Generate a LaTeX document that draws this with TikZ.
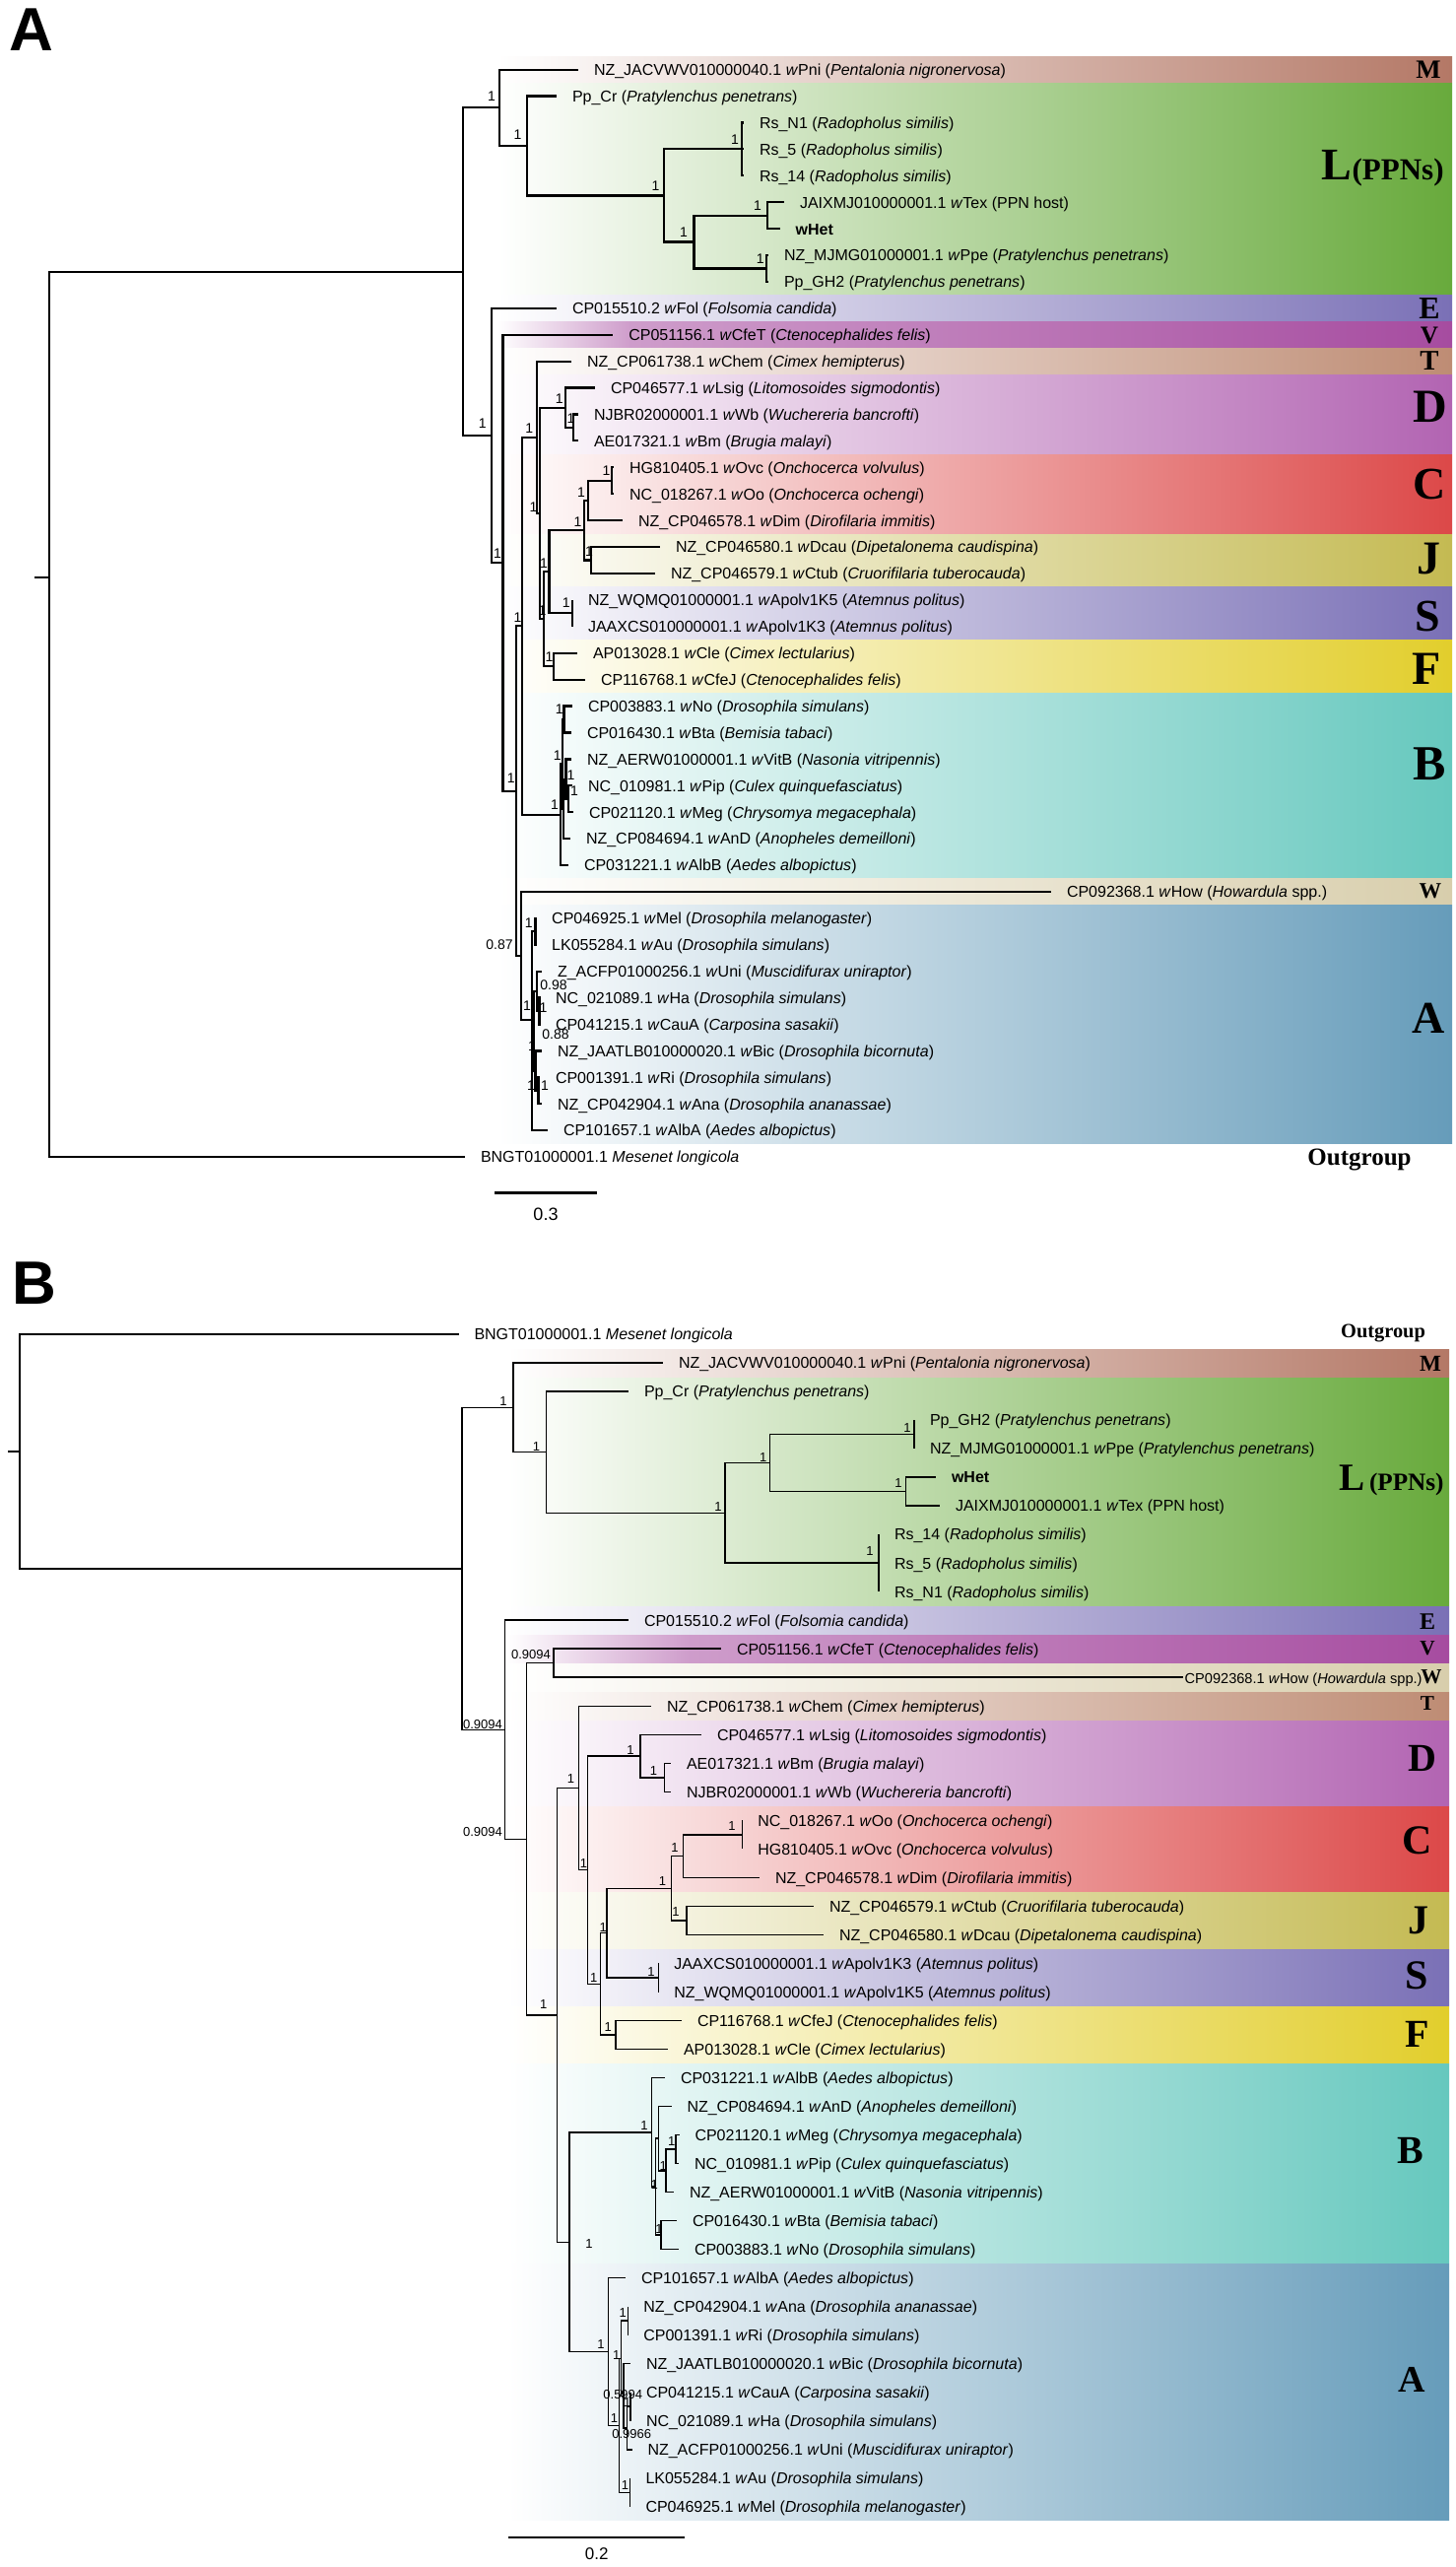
\documentclass[tikz,border=0pt]{standalone}
\usepackage{fontspec}
\setmainfont{Liberation Sans}
\newfontfamily\cladefont{Liberation Serif}

\definecolor{cM}{RGB}{180,120,102}
\definecolor{cL}{RGB}{104,170,60}
\definecolor{cE}{RGB}{122,112,182}
\definecolor{cV}{RGB}{166,76,160}
\definecolor{cT}{RGB}{190,140,116}
\definecolor{cD}{RGB}{178,100,178}
\definecolor{cC}{RGB}{220,72,72}
\definecolor{cJ}{RGB}{196,186,82}
\definecolor{cS}{RGB}{122,112,182}
\definecolor{cF}{RGB}{226,206,44}
\definecolor{cB}{RGB}{102,200,190}
\definecolor{cW}{RGB}{216,206,172}
\definecolor{cA}{RGB}{102,156,186}

% strain label: accession, w-name, host
\newcommand{\wl}[3]{#1 \textit{w}#2 (\textit{#3})}
\newcommand{\hs}[2]{#1 (\textit{#2})}
\newcommand{\cfs}[1]{\fontsize{#1}{#1}\selectfont\cladefont\bfseries}

\tikzset{
  brA/.style={line width=1.1pt},
  brB/.style={line width=0.75pt},
  leaf/.style={anchor=west, inner xsep=1pt, inner ysep=0pt, outer xsep=7pt, outer ysep=0pt,
    font=\fontsize{8}{9}\selectfont, text height=1.55ex, text depth=0.45ex},
  supA/.style={inner sep=0pt, font=\fontsize{7}{7}\selectfont},
  supB/.style={inner sep=0pt, font=\fontsize{6.5}{6.5}\selectfont},
  clade/.style={inner sep=0pt, font=\cfs{#1}},
  panel/.style={inner sep=0pt, anchor=north west, font=\fontsize{31}{31}\selectfont\bfseries},
}

\begin{document}
\begin{tikzpicture}[x=0.5pt,y=-0.5pt]
  \useasboundingbox (0,0) rectangle (1477,2605);

  % ---------------- panel A ----------------
  \foreach \t/\b/\c in {57.7/83.6/cM, 84.6/298.9/cL, 299.9/325.8/cE,
      353.7/379.6/cT, 380.6/460.3/cD, 461.3/541.1/cC, 542.1/594.9/cJ, 595.9/648.7/cS,
      649.7/702.5/cF, 703.5/890.9/cB, 891.9/917.8/cW, 918.8/1160/cA}
    \shade[left color=white,right color=\c] (505,\t) rectangle (1474,\b);
  \shade[left color=white,right color=cV!55] (505,326.8) rectangle (640,352.7);
  \shade[left color=cV!55,right color=cV] (639.5,326.8) rectangle (1474,352.7);

  \node[panel] (labA) at (9,8) {A};

  \node[leaf] (a-Pni) at (587,70.7) {\wl{NZ\_JACVWV010000040.1}{Pni}{Pentalonia nigronervosa}};
  \node[leaf] (a-PpCr) at (565,97.6) {\hs{Pp\_Cr}{Pratylenchus penetrans}};
  \node[leaf] (a-RsN1) at (755,124.5) {\hs{Rs\_N1}{Radopholus similis}};
  \node[leaf] (a-Rs5) at (755,151.4) {\hs{Rs\_5}{Radopholus similis}};
  \node[leaf] (a-Rs14) at (755,178.3) {\hs{Rs\_14}{Radopholus similis}};
  \node[leaf] (a-Tex) at (796,205.2) {JAIXMJ010000001.1 \textit{w}Tex (PPN host)};
  \node[leaf] (a-Het) at (791.6,232.2) {\textbf{wHet}};
  \node[leaf] (a-Ppe) at (780,259.1) {\wl{NZ\_MJMG01000001.1}{Ppe}{Pratylenchus penetrans}};
  \node[leaf] (a-PpGH2) at (780,286.0) {\hs{Pp\_GH2}{Pratylenchus penetrans}};
  \node[leaf] (a-Fol) at (565,312.9) {\wl{CP015510.2}{Fol}{Folsomia candida}};
  \node[leaf] (a-CfeT) at (622.3,339.8) {\wl{CP051156.1}{CfeT}{Ctenocephalides felis}};
  \node[leaf] (a-Chem) at (580,366.7) {\wl{NZ\_CP061738.1}{Chem}{Cimex hemipterus}};
  \node[leaf] (a-Lsig) at (604,393.6) {\wl{CP046577.1}{Lsig}{Litomosoides sigmodontis}};
  \node[leaf] (a-Wb) at (587,420.5) {\wl{NJBR02000001.1}{Wb}{Wuchereria bancrofti}};
  \node[leaf] (a-Bm) at (587,447.4) {\wl{AE017321.1}{Bm}{Brugia malayi}};
  \node[leaf] (a-Ovc) at (623,474.3) {\wl{HG810405.1}{Ovc}{Onchocerca volvulus}};
  \node[leaf] (a-Oo) at (623,501.3) {\wl{NC\_018267.1}{Oo}{Onchocerca ochengi}};
  \node[leaf] (a-Dim) at (632,528.2) {\wl{NZ\_CP046578.1}{Dim}{Dirofilaria immitis}};
  \node[leaf] (a-Dcau) at (670,555.1) {\wl{NZ\_CP046580.1}{Dcau}{Dipetalonema caudispina}};
  \node[leaf] (a-Ctub) at (665,582.0) {\wl{NZ\_CP046579.1}{Ctub}{Cruorifilaria tuberocauda}};
  \node[leaf] (a-K5) at (581,608.9) {\wl{NZ\_WQMQ01000001.1}{Apolv1K5}{Atemnus politus}};
  \node[leaf] (a-K3) at (581,635.8) {\wl{JAAXCS010000001.1}{Apolv1K3}{Atemnus politus}};
  \node[leaf] (a-Cle) at (586,662.7) {\wl{AP013028.1}{Cle}{Cimex lectularius}};
  \node[leaf] (a-CfeJ) at (594,689.6) {\wl{CP116768.1}{CfeJ}{Ctenocephalides felis}};
  \node[leaf] (a-No) at (581,716.5) {\wl{CP003883.1}{No}{Drosophila simulans}};
  \node[leaf] (a-Bta) at (580,743.4) {\wl{CP016430.1}{Bta}{Bemisia tabaci}};
  \node[leaf] (a-VitB) at (580,770.4) {\wl{NZ\_AERW01000001.1}{VitB}{Nasonia vitripennis}};
  \node[leaf] (a-Pip) at (581,797.3) {\wl{NC\_010981.1}{Pip}{Culex quinquefasciatus}};
  \node[leaf] (a-Meg) at (582,824.2) {\wl{CP021120.1}{Meg}{Chrysomya megacephala}};
  \node[leaf] (a-AnD) at (579,851.1) {\wl{NZ\_CP084694.1}{AnD}{Anopheles demeilloni}};
  \node[leaf] (a-AlbB) at (577,878.0) {\wl{CP031221.1}{AlbB}{Aedes albopictus}};
  \node[leaf] (a-How) at (1067,904.9) {CP092368.1 \textit{w}How (\textit{Howardula} spp.)};
  \node[leaf] (a-Mel) at (544.2,931.8) {\wl{CP046925.1}{Mel}{Drosophila melanogaster}};
  \node[leaf] (a-Au) at (544.2,958.7) {\wl{LK055284.1}{Au}{Drosophila simulans}};
  \node[leaf] (a-Uni) at (550,985.6) {\wl{Z\_ACFP01000256.1}{Uni}{Muscidifurax uniraptor}};
  \node[leaf] (a-Ha) at (548,1012.5) {\wl{NC\_021089.1}{Ha}{Drosophila simulans}};
  \node[leaf] (a-CauA) at (548,1039.5) {\wl{CP041215.1}{CauA}{Carposina sasakii}};
  \node[leaf] (a-Bic) at (550,1066.4) {\wl{NZ\_JAATLB010000020.1}{Bic}{Drosophila bicornuta}};
  \node[leaf] (a-Ri) at (548,1093.3) {\wl{CP001391.1}{Ri}{Drosophila simulans}};
  \node[leaf] (a-Ana) at (550,1120.2) {\wl{NZ\_CP042904.1}{Ana}{Drosophila ananassae}};
  \node[leaf] (a-AlbA) at (556,1147.1) {\wl{CP101657.1}{AlbA}{Aedes albopictus}};
  \node[leaf] (a-Mlon) at (472,1174.0) {BNGT01000001.1 \textit{Mesenet longicola}};

  % inner nodes of tree A
  \coordinate (nA-stub) at (35,586);
  \coordinate (nA-root) at (50,586);
  \coordinate (nA-ing) at (470,275.7);
  \coordinate (nA-ML) at (506.6,109.4);
  \coordinate (nA-L) at (535,148.05);
  \coordinate (nA-L2) at (674,198.5);
  \coordinate (nA-Rs) at (752.8,151.4);
  \coordinate (nA-L3) at (704.5,245.6);
  \coordinate (nA-TH) at (779,218.7);
  \coordinate (nA-Pp) at (778,272.55);
  \coordinate (nA-E) at (498.7,442);
  \coordinate (nA-V) at (510.5,571.2);
  \coordinate (nA-X) at (524.3,802.6);
  \coordinate (nA-TB) at (530,635.3);
  \coordinate (nA-TF) at (545,443.85);
  \coordinate (nA-DF) at (548.3,521);
  \coordinate (nA-D) at (574,413.8);
  \coordinate (nA-WbBm) at (581.7,433.95);
  \coordinate (nA-CJSF) at (552.3,628.2);
  \coordinate (nA-CJS) at (557.4,580.3);
  \coordinate (nA-CJ) at (593.3,538.3);
  \coordinate (nA-C) at (596.8,508);
  \coordinate (nA-OvcOo) at (621,487.8);
  \coordinate (nA-J) at (600.2,568.55);
  \coordinate (nA-S) at (581,622.35);
  \coordinate (nA-F) at (562.2,676.15);
  \coordinate (nA-B0) at (569.3,826.7);
  \coordinate (nA-B1) at (570.8,775.4);
  \coordinate (nA-NoBta) at (572.5,729.95);
  \coordinate (nA-B2) at (572,820.85);
  \coordinate (nA-B3) at (574.5,790.6);
  \coordinate (nA-PipMeg) at (577,810.75);
  \coordinate (nA-WA) at (529.3,970);
  \coordinate (nA-A0) at (540,1035);
  \coordinate (nA-MelAu) at (543.5,945.25);
  \coordinate (nA-A2) at (542,1046.2);
  \coordinate (nA-UHC) at (545,1005.8);
  \coordinate (nA-HaCau) at (547.5,1026);
  \coordinate (nA-BRA) at (543.5,1086.6);
  \coordinate (nA-RiAna) at (546.5,1106.75);

  \draw[brA] (nA-stub) -- (nA-root);
  \foreach \p/\c in {nA-root/nA-ing, nA-root/a-Mlon, nA-ing/nA-ML, nA-ing/nA-E,
      nA-ML/a-Pni, nA-ML/nA-L, nA-L/a-PpCr, nA-L/nA-L2, nA-L2/nA-Rs, nA-L2/nA-L3,
      nA-Rs/a-RsN1, nA-Rs/a-Rs5, nA-Rs/a-Rs14, nA-L3/nA-TH, nA-L3/nA-Pp,
      nA-TH/a-Tex, nA-TH/a-Het, nA-Pp/a-Ppe, nA-Pp/a-PpGH2,
      nA-E/a-Fol, nA-E/nA-V, nA-V/a-CfeT, nA-V/nA-X, nA-X/nA-TB, nA-X/nA-WA,
      nA-TB/nA-TF, nA-TB/nA-B0, nA-TF/a-Chem, nA-TF/nA-DF, nA-DF/nA-D, nA-DF/nA-CJSF,
      nA-D/a-Lsig, nA-D/nA-WbBm, nA-WbBm/a-Wb, nA-WbBm/a-Bm,
      nA-CJSF/nA-CJS, nA-CJSF/nA-F, nA-CJS/nA-CJ, nA-CJS/nA-S, nA-CJ/nA-C, nA-CJ/nA-J,
      nA-C/nA-OvcOo, nA-C/a-Dim, nA-OvcOo/a-Ovc, nA-OvcOo/a-Oo, nA-J/a-Dcau, nA-J/a-Ctub,
      nA-S/a-K5, nA-S/a-K3, nA-F/a-Cle, nA-F/a-CfeJ,
      nA-B0/nA-B1, nA-B0/a-AlbB, nA-B1/nA-NoBta, nA-B1/nA-B2, nA-NoBta/a-No, nA-NoBta/a-Bta,
      nA-B2/nA-B3, nA-B2/a-AnD, nA-B3/a-VitB, nA-B3/nA-PipMeg, nA-PipMeg/a-Pip, nA-PipMeg/a-Meg,
      nA-WA/a-How, nA-WA/nA-A0, nA-A0/nA-MelAu, nA-A0/nA-A2, nA-A0/a-AlbA,
      nA-MelAu/a-Mel, nA-MelAu/a-Au, nA-A2/nA-UHC, nA-A2/nA-BRA, nA-UHC/a-Uni, nA-UHC/nA-HaCau,
      nA-HaCau/a-Ha, nA-HaCau/a-CauA, nA-BRA/a-Bic, nA-BRA/nA-RiAna, nA-RiAna/a-Ri, nA-RiAna/a-Ana}
    \draw[brA] (\p) |- (\c);

  % support values A
  \foreach \x/\y/\s [count=\k] in {499/98/1, 525.5/136.7/1, 665.6/189/1, 746/141.7/1, 694/236/1,
      769/209/1, 771.7/263/1, 489.7/430/1, 505/561.7/1, 518.7/790/1, 525.6/626.7/1, 537.3/434.5/1,
      541.5/515/1, 567.8/405/1, 579.5/425/1, 615.4/478/1, 590/500/1, 586.4/529.3/1, 598/560/1,
      552/571.7/1, 574.7/611.7/1, 550.5/620/1, 557.4/666.7/1, 567.7/720/1, 565.7/767/1,
      579.5/786.7/1, 583/803/1, 563/816.7/1, 507/959/0.87, 535/1021/1, 536.7/936.7/1,
      562/1000/0.98, 551.5/1023/1, 564/1050/0.88, 540/1062/1, 539/1102/1, 553/1102/1}
    \node[supA] (sa\k) at (\x,\y) {\s};

  % clade names A
  \node[clade=13.4] (kA-M) at (1450,70.7) {M};
  \node[inner sep=0pt, anchor=base east] (kA-L) at (1466,183) {{\cfs{23}L}{\cfs{15.5}(PPNs)}};
  \node[clade=16] (kA-E) at (1451,313) {E};
  \node[clade=12.6] (kA-V) at (1451,340) {V};
  \node[clade=14.4] (kA-T) at (1451,366.5) {T};
  \node[clade=24] (kA-D) at (1452,413) {D};
  \node[clade=23] (kA-C) at (1451,491) {C};
  \node[clade=24] (kA-J) at (1450,567) {J};
  \node[clade=23] (kA-S) at (1449,625) {S};
  \node[clade=24] (kA-F) at (1448,679) {F};
  \node[clade=25] (kA-B) at (1451,775) {B};
  \node[clade=11.3] (kA-W) at (1452,904.5) {W};
  \node[clade=23] (kA-A) at (1450,1033) {A};
  \node[clade=12.5, anchor=base] (kA-out) at (1380,1182) {Outgroup};

  % scale bar A
  \coordinate (sbA1) at (502,1210.7);
  \coordinate (sbA2) at (606,1210.7);
  \draw[line width=1.3pt] (sbA1) -- (sbA2);
  \node[font=\fontsize{9}{9}\selectfont] (sbA) at (554,1232.7) {0.3};

  % ---------------- panel B ----------------
  \foreach \t/\b/\c in {1369/1397/cM, 1398/1629.2/cL, 1630.2/1658.2/cE,
      1688.2/1716.2/cW, 1717.3/1745.3/cT, 1746.3/1832.3/cD, 1833.3/1919.4/cC, 1920.4/1977.4/cJ,
      1978.4/2035.5/cS, 2036.5/2093.5/cF, 2094.5/2296.6/cB, 2297.7/2557/cA}
    \shade[left color=white,right color=\c] (515,\t) rectangle (1471,\b);
  \shade[left color=white,right color=cV!55] (515,1659.2) rectangle (700,1687.2);
  \shade[left color=cV!55,right color=cV] (699.5,1659.2) rectangle (1471,1687.2);

  \node[panel] (labB) at (12,1280) {B};

  \node[leaf] (b-Mlon) at (465.5,1354.0) {BNGT01000001.1 \textit{Mesenet longicola}};
  \node[leaf] (b-Pni) at (673,1383.0) {\wl{NZ\_JACVWV010000040.1}{Pni}{Pentalonia nigronervosa}};
  \node[leaf] (b-PpCr) at (638,1412.0) {\hs{Pp\_Cr}{Pratylenchus penetrans}};
  \node[leaf] (b-PpGH2) at (928,1441.1) {\hs{Pp\_GH2}{Pratylenchus penetrans}};
  \node[leaf] (b-Ppe) at (928,1470.1) {\wl{NZ\_MJMG01000001.1}{Ppe}{Pratylenchus penetrans}};
  \node[leaf] (b-Het) at (950,1499.1) {\textbf{wHet}};
  \node[leaf] (b-Tex) at (954,1528.1) {JAIXMJ010000001.1 \textit{w}Tex (PPN host)};
  \node[leaf] (b-Rs14) at (892,1557.1) {\hs{Rs\_14}{Radopholus similis}};
  \node[leaf] (b-Rs5) at (892,1586.2) {\hs{Rs\_5}{Radopholus similis}};
  \node[leaf] (b-RsN1) at (892,1615.2) {\hs{Rs\_N1}{Radopholus similis}};
  \node[leaf] (b-Fol) at (638,1644.2) {\wl{CP015510.2}{Fol}{Folsomia candida}};
  \node[leaf] (b-CfeT) at (732,1673.2) {\wl{CP051156.1}{CfeT}{Ctenocephalides felis}};
  \node[leaf, outer xsep=0pt, font=\fontsize{7.3}{8}\selectfont] (b-How) at (1200.6,1702.2) {CP092368.1 \textit{w}How (\textit{Howardula} spp.)};
  \node[leaf] (b-Chem) at (661,1731.3) {\wl{NZ\_CP061738.1}{Chem}{Cimex hemipterus}};
  \node[leaf] (b-Lsig) at (712,1760.3) {\wl{CP046577.1}{Lsig}{Litomosoides sigmodontis}};
  \node[leaf] (b-Bm) at (681,1789.3) {\wl{AE017321.1}{Bm}{Brugia malayi}};
  \node[leaf] (b-Wb) at (681,1818.3) {\wl{NJBR02000001.1}{Wb}{Wuchereria bancrofti}};
  \node[leaf] (b-Oo) at (753.3,1847.3) {\wl{NC\_018267.1}{Oo}{Onchocerca ochengi}};
  \node[leaf] (b-Ovc) at (753.3,1876.4) {\wl{HG810405.1}{Ovc}{Onchocerca volvulus}};
  \node[leaf] (b-Dim) at (771,1905.4) {\wl{NZ\_CP046578.1}{Dim}{Dirofilaria immitis}};
  \node[leaf] (b-Ctub) at (826,1934.4) {\wl{NZ\_CP046579.1}{Ctub}{Cruorifilaria tuberocauda}};
  \node[leaf] (b-Dcau) at (836,1963.4) {\wl{NZ\_CP046580.1}{Dcau}{Dipetalonema caudispina}};
  \node[leaf] (b-K3) at (668.3,1992.4) {\wl{JAAXCS010000001.1}{Apolv1K3}{Atemnus politus}};
  \node[leaf] (b-K5) at (668.3,2021.5) {\wl{NZ\_WQMQ01000001.1}{Apolv1K5}{Atemnus politus}};
  \node[leaf] (b-CfeJ) at (692,2050.5) {\wl{CP116768.1}{CfeJ}{Ctenocephalides felis}};
  \node[leaf] (b-Cle) at (678,2079.5) {\wl{AP013028.1}{Cle}{Cimex lectularius}};
  \node[leaf] (b-AlbB) at (675,2108.5) {\wl{CP031221.1}{AlbB}{Aedes albopictus}};
  \node[leaf] (b-AnD) at (681.5,2137.5) {\wl{NZ\_CP084694.1}{AnD}{Anopheles demeilloni}};
  \node[leaf] (b-Meg) at (689.5,2166.6) {\wl{CP021120.1}{Meg}{Chrysomya megacephala}};
  \node[leaf] (b-Pip) at (689,2195.6) {\wl{NC\_010981.1}{Pip}{Culex quinquefasciatus}};
  \node[leaf] (b-VitB) at (684,2224.6) {\wl{NZ\_AERW01000001.1}{VitB}{Nasonia vitripennis}};
  \node[leaf] (b-Bta) at (687,2253.6) {\wl{CP016430.1}{Bta}{Bemisia tabaci}};
  \node[leaf] (b-No) at (689,2282.6) {\wl{CP003883.1}{No}{Drosophila simulans}};
  \node[leaf] (b-AlbA) at (635,2311.7) {\wl{CP101657.1}{AlbA}{Aedes albopictus}};
  \node[leaf] (b-Ana) at (637.3,2340.7) {\wl{NZ\_CP042904.1}{Ana}{Drosophila ananassae}};
  \node[leaf] (b-Ri) at (637.3,2369.7) {\wl{CP001391.1}{Ri}{Drosophila simulans}};
  \node[leaf] (b-Bic) at (640,2398.7) {\wl{NZ\_JAATLB010000020.1}{Bic}{Drosophila bicornuta}};
  \node[leaf] (b-CauA) at (640,2427.7) {\wl{CP041215.1}{CauA}{Carposina sasakii}};
  \node[leaf] (b-Ha) at (640,2456.8) {\wl{NC\_021089.1}{Ha}{Drosophila simulans}};
  \node[leaf] (b-Uni) at (641.5,2485.8) {\wl{NZ\_ACFP01000256.1}{Uni}{Muscidifurax uniraptor}};
  \node[leaf] (b-Au) at (639.5,2514.8) {\wl{LK055284.1}{Au}{Drosophila simulans}};
  \node[leaf] (b-Mel) at (639.5,2543.8) {\wl{CP046925.1}{Mel}{Drosophila melanogaster}};

  % inner nodes of tree B
  \coordinate (nB-stub) at (8,1473);
  \coordinate (nB-root) at (20,1473);
  \coordinate (nB-ing) at (468.75,1591.9);
  \coordinate (nB-ML) at (521,1428.4);
  \coordinate (nB-L) at (554.5,1473.7);
  \coordinate (nB-L2) at (736,1535.4);
  \coordinate (nB-L3) at (781.6,1484.6);
  \coordinate (nB-Pp) at (928,1455.6);
  \coordinate (nB-HT) at (919.7,1513.6);
  \coordinate (nB-Rs) at (892,1586.2);
  \coordinate (nB-E) at (512.5,1755.3);
  \coordinate (nB-R) at (534.6,1866.4);
  \coordinate (nB-VW) at (562.2,1687.7);
  \coordinate (nB-S2) at (565.6,2044.9);
  \coordinate (nB-TF) at (587.7,1814.5);
  \coordinate (nB-DF) at (596.5,1897.7);
  \coordinate (nB-D) at (649.8,1782);
  \coordinate (nB-BmWb) at (674.7,1803.8);
  \coordinate (nB-CJSF) at (609.3,2013.3);
  \coordinate (nB-CJS) at (616,1961.6);
  \coordinate (nB-CJ) at (681.6,1916.25);
  \coordinate (nB-C) at (693.3,1883.6);
  \coordinate (nB-OoOvc) at (753.3,1861.85);
  \coordinate (nB-J) at (696.8,1948.9);
  \coordinate (nB-S) at (668.3,2007);
  \coordinate (nB-F) at (625,2065);
  \coordinate (nB-BA) at (578,2275.35);
  \coordinate (nB-B0) at (661.7,2164.2);
  \coordinate (nB-B1) at (665.7,2219.1);
  \coordinate (nB-B2) at (668.3,2170.2);
  \coordinate (nB-B3) at (676,2202.9);
  \coordinate (nB-MegPip) at (686,2181.1);
  \coordinate (nB-BtaNo) at (671.2,2268.1);
  \coordinate (nB-A0) at (617.3,2386.5);
  \coordinate (nB-A1) at (628.3,2461.3);
  \coordinate (nB-A2) at (630.7,2393.3);
  \coordinate (nB-AnaRi) at (637.3,2355.2);
  \coordinate (nB-A3) at (633,2431.4);
  \coordinate (nB-A4) at (636.7,2464);
  \coordinate (nB-CauAHa) at (640,2442.25);
  \coordinate (nB-MelAu) at (639.5,2529.3);

  \draw[brB] (nB-stub) -- (nB-root);
  \foreach \p/\c in {nB-root/b-Mlon, nB-root/nB-ing, nB-ing/nB-ML, nB-ing/nB-E,
      nB-ML/b-Pni, nB-ML/nB-L, nB-L/b-PpCr, nB-L/nB-L2, nB-L2/nB-L3, nB-L2/nB-Rs,
      nB-L3/nB-Pp, nB-L3/nB-HT, nB-Pp/b-PpGH2, nB-Pp/b-Ppe, nB-HT/b-Het, nB-HT/b-Tex,
      nB-Rs/b-Rs14, nB-Rs/b-Rs5, nB-Rs/b-RsN1,
      nB-E/b-Fol, nB-E/nB-R, nB-R/nB-VW, nB-R/nB-S2, nB-VW/b-CfeT, nB-VW/b-How,
      nB-S2/nB-TF, nB-S2/nB-BA, nB-TF/b-Chem, nB-TF/nB-DF, nB-DF/nB-D, nB-DF/nB-CJSF,
      nB-D/b-Lsig, nB-D/nB-BmWb, nB-BmWb/b-Bm, nB-BmWb/b-Wb,
      nB-CJSF/nB-CJS, nB-CJSF/nB-F, nB-CJS/nB-CJ, nB-CJS/nB-S, nB-CJ/nB-C, nB-CJ/nB-J,
      nB-C/nB-OoOvc, nB-C/b-Dim, nB-OoOvc/b-Oo, nB-OoOvc/b-Ovc, nB-J/b-Ctub, nB-J/b-Dcau,
      nB-S/b-K3, nB-S/b-K5, nB-F/b-CfeJ, nB-F/b-Cle,
      nB-BA/nB-B0, nB-BA/nB-A0, nB-B0/b-AlbB, nB-B0/nB-B1, nB-B1/nB-B2, nB-B1/nB-BtaNo,
      nB-B2/b-AnD, nB-B2/nB-B3, nB-B3/nB-MegPip, nB-B3/b-VitB, nB-MegPip/b-Meg, nB-MegPip/b-Pip,
      nB-BtaNo/b-Bta, nB-BtaNo/b-No, nB-A0/b-AlbA, nB-A0/nB-A1, nB-A1/nB-A2, nB-A1/nB-MelAu,
      nB-A2/nB-AnaRi, nB-A2/nB-A3, nB-AnaRi/b-Ana, nB-AnaRi/b-Ri, nB-A3/b-Bic, nB-A3/nB-A4,
      nB-A4/nB-CauAHa, nB-A4/b-Uni, nB-CauAHa/b-CauA, nB-CauAHa/b-Ha, nB-MelAu/b-Au, nB-MelAu/b-Mel}
    \draw[brB] (\p) |- (\c);

  % support values B
  \foreach \x/\y/\s [count=\k] in {511/1421.7/1, 544.6/1468/1, 729/1528.7/1, 774.7/1479/1,
      921/1448.7/1, 912/1505/1, 883/1573.6/1, 490/1750/0.9094, 490/1859/0.9094, 539/1679/0.9094,
      551.8/2034/1, 579.4/1805/1, 592.5/1891/1, 640/1775.6/1, 663.6/1796.7/1, 602.7/2007/1,
      612.3/1956/1, 661/2000.7/1, 617.3/2057.3/1, 672.6/1909/1, 685/1875/1, 743/1852.8/1,
      686/1940/1, 654/2156.7/1, 681.7/2173.3/1, 673.3/2198.3/1, 664.3/2216.7/1, 669/2261.7/1,
      598/2276.7/1, 610/2379.3/1, 623.5/2454/1, 625.7/2389.5/1, 632.3/2347/1, 632.3/2430/0.5994,
      636.7/2438.3/1, 641.2/2470/0.9966, 634.6/2521.7/1}
    \node[supB] (sb\k) at (\x,\y) {\s};

  % clade names B
  \node[clade=10.2, anchor=base] (kB-out) at (1404,1357) {Outgroup};
  \node[clade=11.6] (kB-M) at (1452,1384) {M};
  \node[inner sep=0pt, anchor=base east] (kB-L) at (1466,1512) {{\cfs{19.6}L}{\cfs{12.6}\,(PPNs)}};
  \node[clade=12] (kB-E) at (1449,1645.8) {E};
  \node[clade=10.6] (kB-V) at (1449,1673) {V};
  \node[clade=10.6] (kB-W) at (1453,1702) {W};
  \node[clade=10.6] (kB-T) at (1449,1729) {T};
  \node[clade=20] (kB-D) at (1443.5,1784) {D};
  \node[clade=21] (kB-C) at (1438.6,1868) {C};
  \node[clade=21] (kB-J) at (1440,1949) {J};
  \node[clade=21] (kB-S) at (1438.6,2005) {S};
  \node[clade=20] (kB-F) at (1438.6,2064.7) {F};
  \node[clade=20] (kB-B) at (1431.7,2182.5) {B};
  \node[clade=19] (kB-A) at (1433,2415) {A};

  % scale bar B
  \coordinate (sbB1) at (516,2575);
  \coordinate (sbB2) at (695,2575);
  \draw[line width=1.3pt] (sbB1) -- (sbB2);
  \node[font=\fontsize{8.5}{8.5}\selectfont] (sbB) at (605.7,2592) {0.2};
\end{tikzpicture}
\end{document}
